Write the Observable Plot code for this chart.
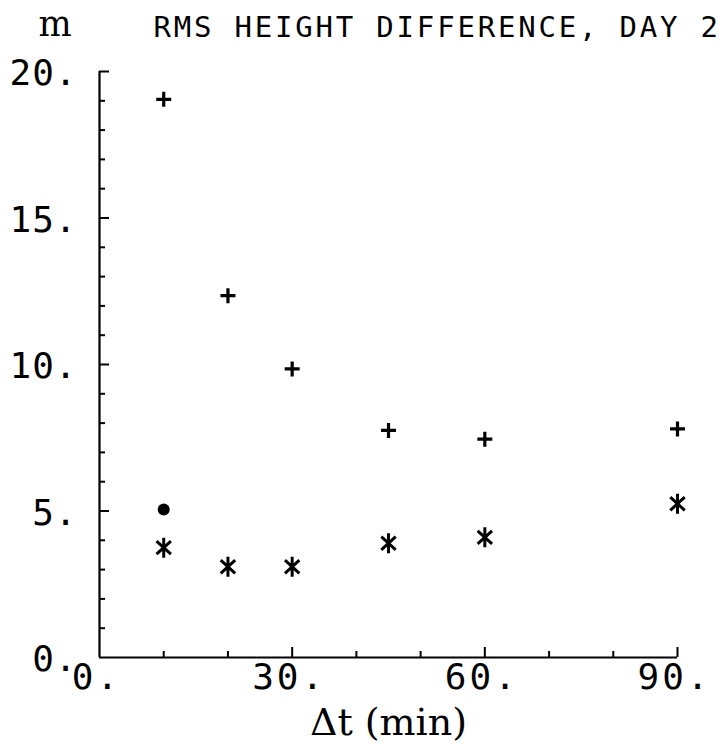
<!DOCTYPE html>
<html>
<head>
<meta charset="utf-8">
<script src="https://cdn.jsdelivr.net/npm/d3@7"></script>
<script src="https://cdn.jsdelivr.net/npm/@observablehq/plot@0.6"></script>
<style>
  html, body { margin: 0; padding: 0; background: #fff; }
  #chart svg { display: block; }
  g[aria-label="y-axis tick label"] text { letter-spacing: 1px; }
  g[aria-label="x-axis tick label"] text { letter-spacing: 3px; }
  .title-text text { letter-spacing: 2.8px; }
</style>
</head>
<body>
<div id="chart"></div>
<script>
// ---- data ----
const dtMinutes   = [10, 20, 30, 45, 60, 90];
const plusSeries  = [19.05, 12.35, 9.85, 7.75, 7.45, 7.8];
const starSeries  = [3.75, 3.1, 3.1, 3.9, 4.1, 5.25];
const dotX        = [10];
const dotSeries   = [5.05];

const xTickLabels = [0, 30, 60, 90];
const yTickLabels = [0, 5, 10, 15, 20];
const xMinorTicks = [10, 20, 40, 50, 70, 80];
const xMajorTicks = [30, 60, 90];
const yMinorTicks = [1,2,3,4,6,7,8,9,11,12,13,14,16,17,18,19];
const yMajorTicks = [5, 10, 15, 20];

const titleText = "RMS HEIGHT DIFFERENCE, DAY 2";
const unitText = "m";
const xLabelText = "\u0394t (min)";

// ---- layout ----
const W = 723, H = 744;
const mL = 99, mR = 46, mT = 71, mB = 87;
const fw = W - mL - mR, fh = H - mT - mB;

const plusData = dtMinutes.map((x, i) => ({x, y: plusSeries[i]}));
const starData = dtMinutes.map((x, i) => ({x, y: starSeries[i]}));
const dotData  = dotX.map((x, i) => ({x, y: dotSeries[i]}));

const plusSymbol = {
  draw(ctx, size) {
    const r = Math.sqrt(size / Math.PI);
    ctx.moveTo(-r, 0); ctx.lineTo(r, 0);
    ctx.moveTo(0, -r); ctx.lineTo(0, r);
  }
};
const starSymbol = {
  draw(ctx, size) {
    const r = Math.sqrt(size / Math.PI);
    const a = r * 0.72, b = r * 0.66;
    ctx.moveTo(0, -r); ctx.lineTo(0, r);
    ctx.moveTo(-a, -b); ctx.lineTo(a, b);
    ctx.moveTo(-a, b); ctx.lineTo(a, -b);
  }
};

const mono = "DejaVu Sans Mono";
const serif = "DejaVu Serif";

const chart = Plot.plot({
  width: W,
  height: H,
  marginLeft: mL, marginRight: mR, marginTop: mT, marginBottom: mB,
  style: {background: "#fff", color: "#000", fontFamily: mono},
  x: {domain: [0, 90]},
  y: {domain: [0, 20]},
  marks: [
    // axis lines
    Plot.ruleX([0], {stroke: "#000", strokeWidth: 2.2}),
    Plot.ruleY([0], {stroke: "#000", strokeWidth: 2.2}),
    // inward ticks
    Plot.tickY(yMinorTicks, {y: d => d, insetRight: fw - 6, stroke: "#000", strokeWidth: 2}),
    Plot.tickY(yMajorTicks, {y: d => d, insetRight: fw - 10, stroke: "#000", strokeWidth: 2}),
    Plot.tickX(xMinorTicks, {x: d => d, insetTop: fh - 6, stroke: "#000", strokeWidth: 2}),
    Plot.tickX(xMajorTicks, {x: d => d, insetTop: fh - 10, stroke: "#000", strokeWidth: 2}),
    // tick labels
    Plot.axisY({ticks: yTickLabels, tickSize: 0, tickPadding: 22, tickFormat: d => d + ".",
      fontSize: 36, fontFamily: mono, dy: 2, label: null}),
    Plot.axisX({ticks: xTickLabels, tickSize: 0, tickPadding: 6, tickFormat: d => d + ".",
      fontSize: 36, fontFamily: mono, dx: -3, label: null}),
    // data
    Plot.dot(plusData, {x: "x", y: "y", symbol: plusSymbol, r: 7.5, stroke: "#000", strokeWidth: 3.2, fill: "none"}),
    Plot.dot(starData, {x: "x", y: "y", symbol: starSymbol, r: 10, stroke: "#000", strokeWidth: 3, fill: "none"}),
    Plot.dot(dotData, {x: "x", y: "y", r: 6, fill: "#000", stroke: "none"}),
    // texts
    Plot.text([unitText], {text: d => d, frameAnchor: "top-left", textAnchor: "start", lineAnchor: "bottom",
      dx: -61, dy: -36, fontFamily: serif, fontSize: 35, fill: "#000"}),
    Plot.text([titleText], {text: d => d, frameAnchor: "top-left", textAnchor: "start", lineAnchor: "bottom",
      dx: 54, dy: -35, fontFamily: mono, fontSize: 29, fill: "#000", className: "title-text"}),
    Plot.text([xLabelText], {text: d => d, frameAnchor: "bottom", textAnchor: "middle", lineAnchor: "bottom",
      dy: 77, fontFamily: serif, fontSize: 38, fill: "#000"})
  ]
});
document.getElementById("chart").appendChild(chart);
</script>
</body>
</html>
